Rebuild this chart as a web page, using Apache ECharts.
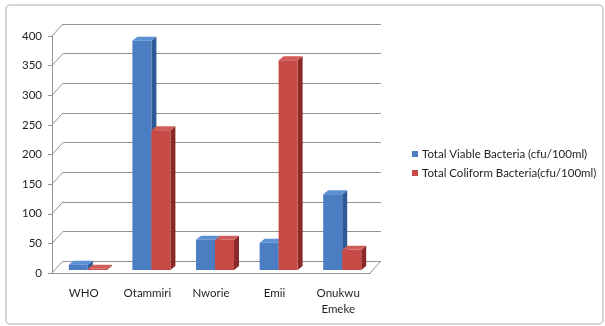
<!DOCTYPE html>
<html>
<head>
<meta charset="utf-8">
<script src="https://cdn.jsdelivr.net/npm/echarts@6/dist/echarts.min.js"></script>
<style>
  html, body { margin: 0; padding: 0; background: #fff; }
  #chart { width: 605px; height: 326px; }
</style>
</head>
<body>
<div id="chart"></div>
<script>
// Sampling sites and bacterial counts (cfu/100ml)
const categories = ['WHO', 'Otammiri', 'Nworie', 'Emii', 'Onukwu\nEmeke'];
const viableCounts = [9, 387, 51, 46, 128];
const coliformCounts = [2, 236, 51, 354, 34];
const yTicks = [0, 50, 100, 150, 200, 250, 300, 350, 400];

const seriesNames = ['Total Viable Bacteria (cfu/100ml)', 'Total Coliform Bacteria(cfu/100ml)'];
const faceColors = [
  { front: '#4a7dc2', side: '#2c5a96', top: '#5d8fd3' },
  { front: '#c64b47', side: '#8c2826', top: '#d15d59' }
];

// Pseudo-3D geometry (pixels)
const WALL_DX = 11, WALL_DY = -12;   // depth of back wall
const BAR_DX = 5, BAR_DY = -4;       // depth of each column
const FACE_SHIFT = 3;                // columns sit slightly behind the front plane
const FRONT_W = 19;                  // front-face width of one column
const seriesStart = [-15, 4];        // left edge of each column relative to band centre

const chart = echarts.init(document.getElementById('chart'), null, { renderer: 'canvas' });

function columnRenderer(sIdx) {
  return function (params, api) {
    const ci = api.value(0);
    const v = api.value(1);
    const top = api.coord([ci, v]);
    const base = api.coord([ci, 0]);
    const x0 = top[0] + seriesStart[sIdx];
    const x1 = x0 + FRONT_W;
    const yt = top[1] - FACE_SHIFT;
    const yb = base[1] - FACE_SHIFT;
    const c = faceColors[sIdx];
    return {
      type: 'group',
      children: [
        { type: 'polygon', shape: { points: [[x1, yt], [x1 + BAR_DX, yt + BAR_DY], [x1 + BAR_DX, yb + BAR_DY], [x1, yb]] }, style: { fill: c.side } },
        { type: 'polygon', shape: { points: [[x0, yt], [x0 + BAR_DX, yt + BAR_DY], [x1 + BAR_DX, yt + BAR_DY], [x1, yt]] }, style: { fill: c.top } },
        { type: 'rect', shape: { x: x0, y: yt, width: FRONT_W, height: yb - yt }, style: { fill: c.front } }
      ]
    };
  };
}

// Diagonal links from the front value axis to the back-wall gridlines, plus the floor's right edge
function wallLinks(params, api) {
  const v = api.value(0);
  const p = api.coord([0, v]);
  const x = params.coordSys.x;
  const lines = [{
    type: 'line',
    shape: { x1: x, y1: p[1], x2: x + WALL_DX, y2: p[1] + WALL_DY },
    style: { stroke: '#939393', lineWidth: 1 }
  }];
  if (v === 0) {
    const xr = params.coordSys.x + params.coordSys.width;
    lines.push({
      type: 'line',
      shape: { x1: xr, y1: p[1], x2: xr + WALL_DX, y2: p[1] + WALL_DY },
      style: { stroke: '#939393', lineWidth: 1 }
    });
  }
  return { type: 'group', children: lines };
}

const FRONT = { left: 52, top: 36, width: 318, height: 237 };

chart.setOption({
  animation: false,
  textStyle: { fontFamily: 'Lato, "Open Sans", sans-serif' },
  graphic: [{
    type: 'rect',
    shape: { x: 6, y: 5, width: 597, height: 319, r: 4 },
    style: { fill: 'none', stroke: '#c8c8c8', lineWidth: 1.5 },
    z: -10
  }],
  grid: [
    { left: FRONT.left, top: FRONT.top, width: FRONT.width, height: FRONT.height },
    { left: FRONT.left + WALL_DX, top: FRONT.top + WALL_DY, width: FRONT.width, height: FRONT.height }
  ],
  xAxis: [
    {
      type: 'category', gridIndex: 0, data: categories,
      axisLine: { lineStyle: { color: '#939393', width: 1 } },
      axisTick: { length: 4, lineStyle: { color: '#939393' } },
      axisLabel: { color: '#1f1f1f', fontSize: 11.5, margin: 12, lineHeight: 16 }
    },
    {
      type: 'category', gridIndex: 1, data: categories,
      axisLine: { show: false }, axisTick: { show: false }, axisLabel: { show: false }
    }
  ],
  yAxis: [
    {
      type: 'value', gridIndex: 0, min: yTicks[0], max: yTicks[yTicks.length - 1], interval: 50,
      axisLine: { show: true, lineStyle: { color: '#939393', width: 1 } },
      axisTick: { show: true, length: 4, lineStyle: { color: '#939393' } },
      axisLabel: { color: '#1f1f1f', fontSize: 11.5, margin: 10 },
      splitLine: { show: false }
    },
    {
      type: 'value', gridIndex: 1, min: yTicks[0], max: yTicks[yTicks.length - 1], interval: 50,
      axisLine: { show: false }, axisTick: { show: false }, axisLabel: { show: false },
      splitLine: { show: true, lineStyle: { color: '#939393', width: 1 } }
    }
  ],
  legend: {
    orient: 'vertical', left: 407, top: 143, itemGap: 7,
    itemWidth: 6, itemHeight: 6, icon: 'rect',
    textStyle: { color: '#1f1f1f', fontSize: 11.5, padding: [0, 0, 0, -1] },
    data: seriesNames
  },
  series: [
    {
      type: 'custom', name: 'links', xAxisIndex: 0, yAxisIndex: 0,
      renderItem: wallLinks, data: yTicks.map(v => [v]),
      encode: { y: 0 }, silent: true, z: 1
    },
    {
      type: 'custom', name: seriesNames[0], xAxisIndex: 0, yAxisIndex: 0,
      itemStyle: { color: faceColors[0].front },
      renderItem: columnRenderer(0),
      data: viableCounts.map((v, i) => [i, v]),
      encode: { x: 0, y: 1 }, z: 3
    },
    {
      type: 'custom', name: seriesNames[1], xAxisIndex: 0, yAxisIndex: 0,
      itemStyle: { color: faceColors[1].front },
      renderItem: columnRenderer(1),
      data: coliformCounts.map((v, i) => [i, v]),
      encode: { x: 0, y: 1 }, z: 4
    }
  ]
});
</script>
</body>
</html>
